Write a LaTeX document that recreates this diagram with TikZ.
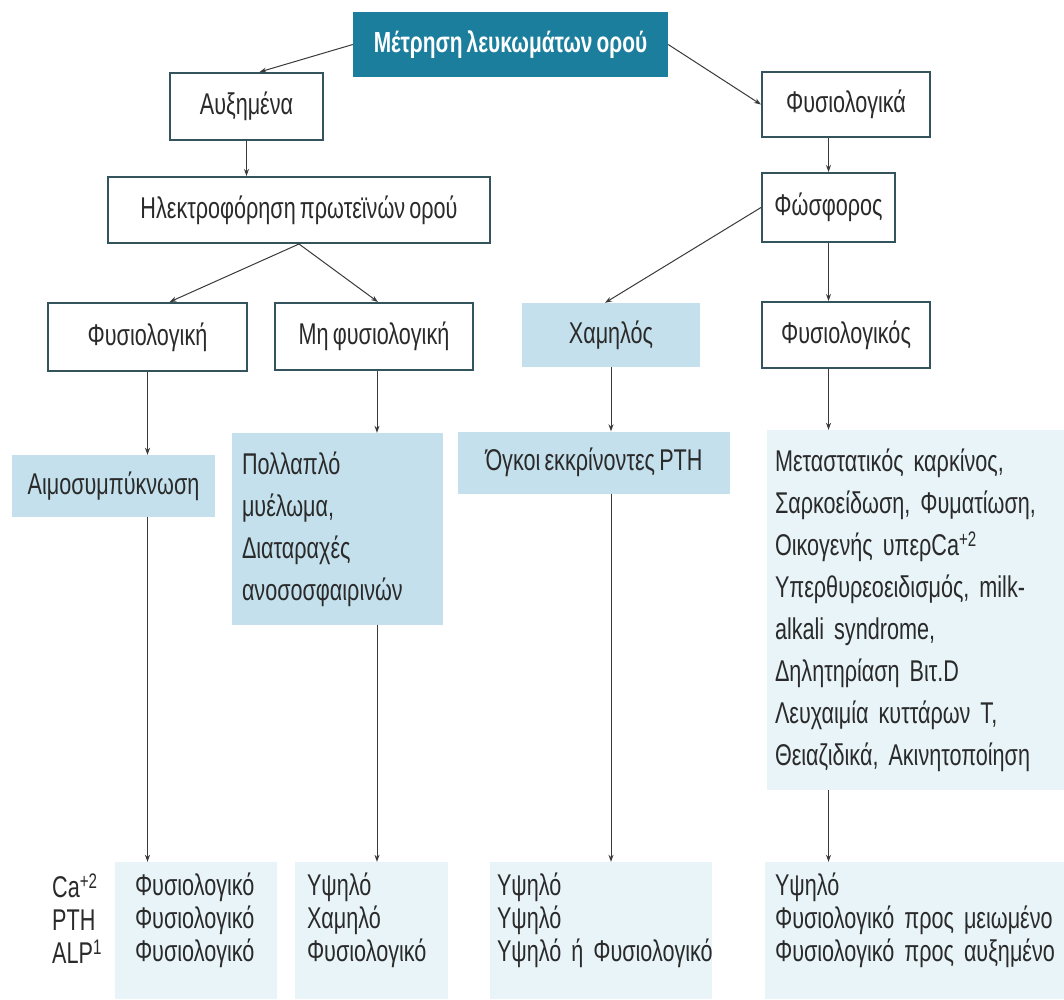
\documentclass[tikz,border=0pt]{standalone}
\usepackage{fontspec}
\setmainfont{Liberation Sans}[FakeStretch=0.72, WordSpace=0.7]
\usetikzlibrary{arrows.meta}

\definecolor{hdrteal}{HTML}{1B7E9C}
\definecolor{blueA}{HTML}{C3E0EC}
\definecolor{blueB}{HTML}{E8F4F8}
\definecolor{edgec}{HTML}{33545C}
\definecolor{linec}{HTML}{3A3A3A}
\definecolor{txt}{HTML}{2A2A2A}

\tikzset{
  base/.style={inner sep=0pt, text=txt, anchor=center},
  plainbox/.style={base, draw=edgec, line width=2pt, fill=white},
  shadebox/.style={base, fill=blueA},
  palebox/.style={base, fill=blueB},
  titlebox/.style={base, fill=hdrteal, text=white,
    font=\bfseries\fontsize{29}{32}\selectfont},
  listbox/.style={align=left},
  labblock/.style={palebox, listbox, minimum height=137pt, text depth=92pt},
  conn/.style={-{Stealth[length=7pt,width=5pt]}, line width=1pt, draw=linec},
}

\begin{document}
\begin{tikzpicture}[x=1pt, y=-1pt, font=\fontsize{30}{42}\selectfont]
\useasboundingbox (0,0) rectangle (1064,999);
\fill[white] (0,0) rectangle (1064,999);

% top of the tree
\node[titlebox, minimum width=315pt, minimum height=65pt] (title) at (510.5,44.5) {Μέτρηση λευκωμάτων ορού};
\node[plainbox, minimum width=153pt, minimum height=67pt] (auxh) at (246.5,106.5) {Αυξημένα};
\node[plainbox, minimum width=168pt, minimum height=65pt] (fysika) at (846,104.5) {Φυσιολογικά};
\node[plainbox, minimum width=382pt, minimum height=66pt] (hlek) at (299,210) {Ηλεκτροφόρηση πρωτεϊνών ορού};
\node[plainbox, minimum width=133pt, minimum height=69pt] (fosf) at (828.5,207.5) {Φώσφορος};

% second level
\node[plainbox, minimum width=199pt, minimum height=68pt] (fys) at (147.5,337) {Φυσιολογική};
\node[plainbox, minimum width=198pt, minimum height=67pt] (mh) at (374,336.5) {Μη φυσιολογική};
\node[shadebox, minimum width=178pt, minimum height=64pt] (xam) at (611,335) {Χαμηλός};
\node[plainbox, minimum width=168pt, minimum height=66pt] (fysikos) at (846,335) {Φυσιολογικός};

% causes
\node[shadebox, minimum width=203pt, minimum height=62pt] (aimo) at (113.5,486) {Αιμοσυμπύκνωση};
\node[shadebox, listbox, minimum width=211pt, minimum height=192pt, inner xsep=10pt, text width=191pt] (polla) at (337.5,529)
  {Πολλαπλό\\μυέλωμα,\\Διαταραχές\\ανοσοσφαιρινών};
\node[shadebox, minimum width=272pt, minimum height=62pt] (ogkoi) at (594,462.5) {Όγκοι εκκρίνοντες PTH};
\node[palebox, listbox, minimum width=297pt, minimum height=360pt, inner xsep=8pt, text width=281pt] (meta) at (915.5,610)
  {\mbox{Μεταστατικός καρκίνος,}\\\mbox{Σαρκοείδωση, Φυματίωση,}\\\mbox{Οικογενής υπερCa\textsuperscript{+2}}\\
   \mbox{Υπερθυρεοειδισμός, milk-}\\\mbox{alkali syndrome,}\\\mbox{Δηλητηρίαση Βιτ.D}\\
   \mbox{Λευχαιμία κυττάρων Τ,}\\\mbox{Θειαζιδικά, Ακινητοποίηση}};

% laboratory values
\begin{scope}[font=\fontsize{30}{33}\selectfont]
\node[base, listbox, anchor=west] (lab) at (52,919) {Ca\textsuperscript{+2}\\PTH\\ALP\textsuperscript{1}};
\node[labblock, minimum width=162pt, inner xsep=20pt, text width=122pt] (b1) at (196,930.5)
  {Φυσιολογικό\\Φυσιολογικό\\Φυσιολογικό};
\node[labblock, minimum width=153pt, inner xsep=12pt, text width=129pt] (b2) at (371.5,930.5)
  {Υψηλό\\Χαμηλό\\Φυσιολογικό};
\node[labblock, minimum width=222pt, inner xsep=7pt, text width=208pt] (b3) at (601,930.5)
  {Υψηλό\\Υψηλό\\\mbox{Υψηλό ή Φυσιολογικό}};
\node[labblock, minimum width=299pt, inner xsep=10pt, text width=279pt] (b4) at (914.5,930.5)
  {Υψηλό\\\mbox{Φυσιολογικό προς μειωμένο}\\\mbox{Φυσιολογικό προς αυξημένο}};
\end{scope}

% connectors
\draw[conn] (title.west) -- ([xshift=13pt]auxh.north);
\draw[conn] (title.east) -- (fysika.west);
\draw[conn] (auxh.south) -- (auxh.south |- hlek.north);
\draw[conn] (hlek.south) -- ([xshift=22pt]fys.north);
\draw[conn] (hlek.south) -- ([xshift=4pt]mh.north);
\draw[conn] (fysika.south -| fosf.north) -- (fosf.north);
\draw[conn] (fosf.west) -- ([xshift=-6pt]xam.north);
\draw[conn] (fosf.south) -- (fosf.south |- fysikos.north);
\draw[conn] (fys.south) -- (fys.south |- aimo.north);
\draw[conn] ([xshift=3pt]mh.south) -- ([xshift=3pt]mh.south |- polla.north);
\draw[conn] (xam.south) -- (xam.south |- ogkoi.north);
\draw[conn] (fosf.south |- fysikos.south) -- (fosf.south |- meta.north);
\draw[conn] (fys.south |- aimo.south) -- (fys.south |- b1.north);
\draw[conn] ([xshift=3pt]mh.south |- polla.south) -- ([xshift=3pt]mh.south |- b2.north);
\draw[conn] (xam.south |- ogkoi.south) -- (xam.south |- b3.north);
\draw[conn] (fosf.south |- meta.south) -- (fosf.south |- b4.north);
\end{tikzpicture}
\end{document}
